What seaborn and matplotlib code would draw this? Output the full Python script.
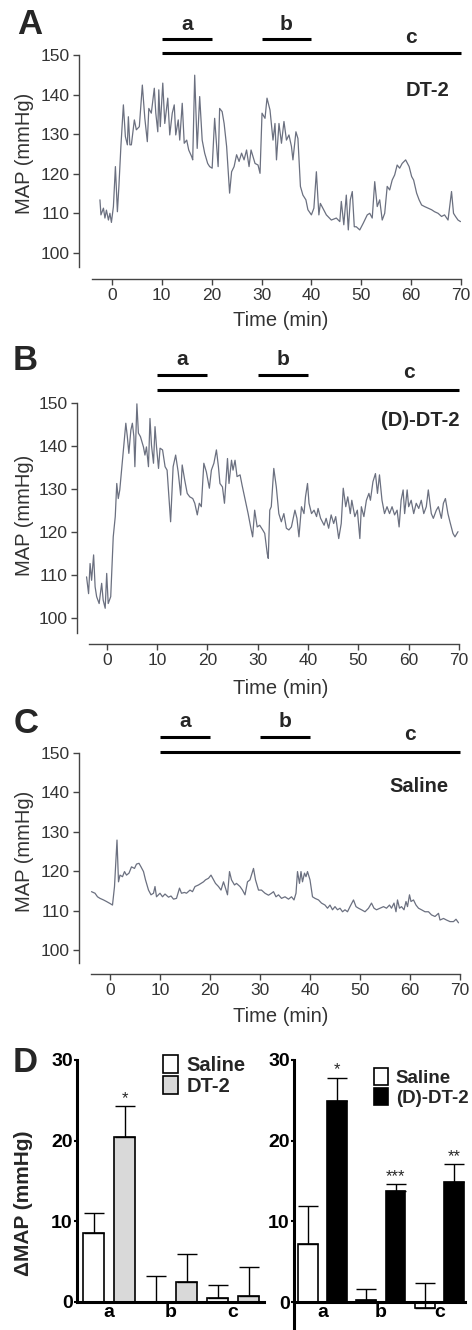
import pandas as pd
import seaborn as sns
import matplotlib.pyplot as plt
from matplotlib.patches import Patch

# MAP traces (time in min, MAP in mmHg)
dt2_time = [-2.4, -2.2, -1.7, -1.4, -1.1, -0.7, -0.4, -0.1, 0.3, 0.7, 1.1, 1.4, 1.8, 2.3, 2.7, 3.1, 3.3, 3.6, 3.9,
            4.5, 4.9, 5.5, 6.1, 6.6, 7.1, 7.4, 7.9, 8.5, 8.8, 9.2, 9.4, 9.7, 10.2, 10.6, 11.2, 11.6, 12.1, 12.5, 12.8,
            13.3, 13.6, 14.1, 14.5, 15.0, 15.4, 16.0, 16.2, 16.6, 17.1, 17.6, 18.1, 18.6, 19.2, 19.6, 20.1, 20.6, 21.3,
            21.6, 22.1, 22.5, 23.0, 23.6, 24.0, 24.5, 25.0, 25.5, 26.0, 26.5, 27.0, 27.5, 27.9, 28.7, 29.3, 29.7, 30.1,
            30.7, 31.1, 31.7, 32.3, 32.7, 33.0, 33.5, 34.0, 34.5, 35.0, 35.5, 36.0, 36.3, 36.9, 37.3, 37.8, 38.3, 38.9,
            39.3, 40.0, 40.5, 41.0, 41.5, 41.8, 42.3, 43.0, 44.0, 45.0, 45.7, 46.0, 46.5, 47.0, 47.4, 47.8, 48.2, 48.6,
            49.0, 49.7, 50.4, 51.2, 51.7, 52.2, 52.7, 53.2, 53.7, 54.2, 54.7, 55.2, 55.7, 56.2, 56.7, 57.2, 57.7, 58.2,
            58.9, 59.6, 60.1, 60.5, 61.1, 61.6, 62.1, 62.7, 63.4, 64.1, 64.7, 65.4, 66.1, 66.7, 67.4, 68.1, 68.5, 68.9,
            69.4, 69.9]
dt2_map = [113.4, 109.6, 111.3, 108.8, 110.8, 108.3, 110.0, 107.7, 111.7, 121.8, 110.4, 116.8, 126.9, 137.4, 129.4,
           127.3, 134.4, 127.3, 127.3, 133.6, 131.1, 131.9, 142.4, 134.0, 128.1, 136.5, 135.3, 141.6, 135.3, 130.6,
           141.2, 131.9, 142.9, 132.7, 139.1, 129.8, 135.3, 137.4, 129.8, 133.6, 128.5, 137.8, 127.7, 128.5, 126.0,
           124.3, 123.5, 144.9, 126.4, 139.5, 128.5, 125.2, 122.6, 121.8, 121.4, 134.0, 121.8, 136.5, 135.7, 132.7,
           126.9, 115.1, 120.5, 121.8, 124.8, 123.1, 125.2, 123.5, 126.0, 121.8, 126.0, 122.6, 122.2, 120.1, 135.3,
           134.0, 139.1, 136.1, 128.5, 132.7, 123.5, 132.7, 127.7, 133.2, 128.5, 129.8, 126.9, 123.5, 130.6, 128.9,
           116.8, 114.6, 113.4, 110.9, 109.6, 111.3, 120.5, 109.6, 112.5, 111.3, 109.6, 108.3, 108.8, 107.9, 113.0,
           107.1, 114.6, 105.8, 113.4, 115.5, 106.6, 106.6, 105.8, 107.5, 109.6, 110.0, 108.8, 118.0, 111.7, 113.4,
           108.3, 110.0, 116.8, 115.9, 118.4, 119.7, 122.2, 121.4, 122.6, 123.5, 121.8, 119.3, 118.4, 115.1, 113.4,
           112.1, 111.7, 111.3, 110.9, 110.4, 110.0, 109.2, 109.6, 108.3, 115.5, 110.0, 109.2, 108.3, 107.9]

ddt2_time = [-4.0, -3.6, -3.3, -3.0, -2.6, -2.3, -2.0, -1.5, -1.0, -0.7, -0.3, 0.0, 0.3, 0.8, 1.3, 1.7, 2.0, 2.3, 2.6,
             3.2, 3.8, 4.1, 4.4, 4.8, 5.1, 5.4, 5.6, 6.0, 6.3, 6.7, 7.3, 7.6, 7.9, 8.3, 8.6, 8.9, 9.3, 9.6, 9.9, 10.3,
             10.6, 11.1, 11.6, 12.0, 12.7, 13.2, 13.7, 14.2, 14.7, 15.0, 15.5, 16.0, 16.5, 17.1, 17.5, 18.0, 18.4,
             18.8, 19.3, 19.8, 20.4, 20.8, 21.3, 21.8, 22.2, 22.5, 23.0, 23.4, 24.0, 24.3, 24.8, 25.1, 25.5, 25.9,
             26.5, 26.9, 27.4, 28.1, 28.6, 29.0, 29.4, 29.9, 30.4, 31.0, 31.4, 31.9, 32.1, 32.4, 32.7, 33.2, 33.7,
             34.2, 34.7, 35.2, 35.7, 36.2, 36.7, 37.4, 37.8, 38.2, 38.7, 39.2, 39.5, 39.9, 40.2, 40.7, 41.2, 41.7,
             42.0, 42.5, 43.2, 43.6, 44.1, 44.6, 45.1, 45.5, 46.1, 46.6, 47.0, 47.5, 47.9, 48.4, 48.7, 49.3, 49.8,
             50.3, 50.6, 51.1, 51.6, 52.1, 52.4, 52.9, 53.4, 53.8, 54.2, 54.7, 55.2, 55.7, 56.2, 56.7, 57.2, 57.7,
             58.1, 58.5, 58.9, 59.2, 59.7, 60.0, 60.5, 61.0, 61.5, 62.0, 62.5, 63.0, 63.5, 63.9, 64.5, 64.9, 65.5,
             65.9, 66.5, 66.9, 67.3, 67.8, 68.2, 68.8, 69.2, 69.8]
ddt2_map = [109.6, 105.7, 112.7, 108.8, 114.7, 107.3, 105.0, 103.4, 108.1, 104.2, 102.3, 110.4, 103.4, 105.0, 118.9,
            123.6, 131.3, 127.8, 129.8, 137.5, 145.3, 142.2, 138.3, 143.7, 145.3, 142.2, 135.2, 149.8, 143.0, 142.2,
            139.8, 137.9, 139.8, 135.2, 146.4, 140.2, 136.0, 144.5, 139.8, 134.8, 139.5, 139.1, 135.2, 134.4, 122.4,
            135.2, 137.9, 134.0, 128.6, 135.6, 132.1, 129.0, 128.2, 127.8, 126.7, 124.0, 126.7, 125.9, 136.0, 134.0,
            130.2, 134.4, 136.0, 139.1, 135.2, 131.3, 130.5, 126.7, 137.1, 131.3, 136.7, 134.4, 136.7, 132.9, 133.3,
            130.9, 128.2, 124.3, 121.2, 118.9, 125.1, 121.2, 121.6, 120.5, 119.7, 115.0, 113.9, 125.1, 125.9, 134.8,
            130.5, 124.3, 122.4, 124.3, 120.9, 120.5, 121.2, 125.1, 123.2, 118.9, 125.9, 124.3, 128.2, 131.3, 126.7,
            124.3, 125.1, 123.6, 125.5, 123.2, 121.6, 123.2, 120.9, 124.0, 122.0, 123.6, 118.5, 122.0, 130.2, 125.9,
            128.2, 124.3, 127.4, 123.6, 125.1, 118.5, 125.9, 123.6, 127.4, 129.0, 127.4, 131.7, 133.6, 129.0, 133.3,
            127.4, 124.3, 125.9, 124.3, 125.9, 124.0, 125.1, 121.2, 127.4, 129.8, 124.3, 129.8, 125.9, 127.4, 124.3,
            126.7, 125.5, 127.4, 124.3, 125.9, 129.8, 124.3, 123.2, 125.1, 125.9, 123.2, 126.7, 127.8, 124.3, 122.4,
            119.7, 118.9, 120.1]

saline_time = [-3.7, -3.0, -2.5, -2.0, -1.3, -0.7, 0.0, 0.5, 0.9, 1.4, 1.7, 2.0, 2.5, 2.9, 3.3, 3.8, 4.3, 4.9, 5.3,
               5.8, 6.2, 6.7, 7.1, 7.7, 8.2, 8.7, 9.0, 9.3, 10.0, 10.5, 11.0, 11.7, 12.2, 12.7, 13.3, 13.9, 14.3,
               14.9, 15.3, 16.0, 16.5, 17.0, 17.7, 18.2, 18.7, 19.1, 19.7, 20.2, 20.7, 21.1, 21.7, 22.2, 22.7, 23.1,
               23.5, 23.9, 24.3, 24.9, 25.3, 26.0, 26.5, 27.0, 27.5, 28.0, 28.7, 29.1, 29.7, 30.3, 31.0, 31.7, 32.3,
               32.7, 33.2, 33.7, 34.3, 35.0, 35.7, 36.3, 36.8, 37.2, 37.5, 37.9, 38.2, 38.5, 38.9, 39.2, 39.5, 40.0,
               40.5, 41.0, 41.7, 42.3, 43.0, 43.5, 44.0, 44.5, 45.0, 45.5, 46.0, 46.5, 47.0, 47.5, 48.0, 48.7, 49.2,
               49.7, 50.3, 51.0, 51.7, 52.3, 52.8, 53.3, 54.0, 54.7, 55.3, 55.9, 56.3, 56.8, 57.2, 57.5, 57.9, 58.3,
               58.8, 59.2, 59.5, 59.9, 60.2, 60.7, 61.2, 61.7, 62.3, 63.0, 63.7, 64.3, 65.0, 65.7, 66.0, 66.7, 67.3,
               68.0, 68.7, 69.2, 69.7]
saline_map = [114.8, 114.4, 113.5, 113.1, 112.7, 112.3, 111.8, 111.4, 116.1, 127.9, 117.3, 119.0, 118.6, 119.9, 119.0,
              119.5, 121.1, 120.7, 121.8, 122.0, 121.1, 119.9, 117.8, 115.2, 114.0, 114.4, 116.1, 113.5, 114.4, 113.5,
              114.2, 113.4, 113.7, 112.9, 113.1, 115.7, 114.4, 114.6, 114.4, 115.2, 114.8, 116.1, 116.5, 116.9, 117.3,
              117.8, 118.2, 119.0, 117.8, 116.9, 116.1, 115.2, 117.3, 115.7, 114.0, 119.9, 117.8, 116.5, 116.9, 116.1,
              115.2, 114.0, 117.3, 117.8, 120.7, 117.8, 115.2, 115.2, 114.4, 113.9, 114.4, 114.8, 113.5, 114.0, 113.1,
              113.5, 112.9, 113.5, 112.7, 114.4, 119.9, 116.9, 119.9, 117.3, 119.5, 118.6, 119.9, 117.8, 113.5, 113.1,
              112.7, 111.9, 111.4, 110.6, 111.4, 110.2, 111.0, 110.2, 110.6, 109.7, 110.2, 109.7, 111.0, 112.7, 111.0,
              110.6, 110.2, 109.7, 110.6, 111.9, 110.6, 110.2, 110.6, 111.0, 110.6, 111.4, 110.6, 111.9, 109.7, 112.7,
              110.6, 111.0, 110.2, 112.3, 111.0, 114.0, 112.3, 112.7, 111.4, 110.6, 110.2, 109.7, 109.7, 108.9, 108.5,
              109.3, 107.6, 108.0, 107.6, 107.2, 107.2, 107.8, 106.9]

# infusion periods (min)
period_a = [10, 20]
period_b = [30, 40]
period_c = [10, 70]

# panel D: mean change in MAP and SEM
periods = ['a', 'b', 'c']
saline_left = [8.5, 0.0, 0.5]
saline_left_err = [2.5, 3.2, 1.6]
dt2_bar = [20.5, 2.5, 0.8]
dt2_bar_err = [3.8, 3.5, 3.6]
saline_right = [7.2, 0.3, -0.7]
saline_right_err = [4.7, 1.35, 3.1]
ddt2_bar = [24.9, 13.8, 14.9]
ddt2_bar_err = [2.9, 0.8, 2.2]
stars_left = ['*', '', '']
stars_right = ['*', '***', '**']

W, H = 472, 1330
TRACE = '#6b7080'
GREY = '#444444'


def fx(x):
    return x / W


def fy(y):
    return 1 - y / H


def box(left, right, top, bottom):
    return [fx(left), fy(bottom), (right - left) / W, (bottom - top) / H]


sns.set_theme(style="white")
plt.rcParams['font.family'] = ['Liberation Sans', 'DejaVu Sans']

fig = plt.figure(figsize=(W / 100, H / 100), dpi=100)

trace_panels = [
    dict(t=dt2_time, v=dt2_map, px=(79, 461, 55, 279), ylim=(93.4, 150), xlim=(-6.6, 70), xstart=-4.0,
         ybot=96.5, bars=(154.0, 150.5, 157.8, 154.5), letter='A', lpos=(30, 25), name='DT-2',
         npos=(449, 90), ylab=153, tlab=321),
    dict(t=ddt2_time, v=ddt2_map, px=(77, 459, 403, 644), ylim=(94.0, 150), xlim=(-5.9, 70), xstart=-3.5,
         ybot=96.5, bars=(156.5, 153.0, 160.2, 157.0), letter='B', lpos=(25, 361), name='(D)-DT-2',
         npos=(460, 420), ylab=515, tlab=688),
    dict(t=saline_time, v=saline_map, px=(79, 460, 753, 974), ylim=(93.9, 150), xlim=(-6.2, 70), xstart=-3.8,
         ybot=96.7, bars=(154.1, 150.25, 157.9, 154.6), letter='C', lpos=(26, 724), name='Saline',
         npos=(449, 786), ylab=851, tlab=1017),
]

for p in trace_panels:
    ax = fig.add_axes(box(*p['px']))
    sns.lineplot(x=p['t'], y=p['v'], ax=ax, color=TRACE, linewidth=0.9, sort=False, estimator=None)
    ax.set_xlim(*p['xlim'])
    ax.set_ylim(*p['ylim'])
    ax.set_xticks(range(0, 71, 10))
    ax.set_yticks(range(100, 151, 10))
    for s in ['top', 'right']:
        ax.spines[s].set_visible(False)
    for s in ['left', 'bottom']:
        ax.spines[s].set_color(GREY)
        ax.spines[s].set_linewidth(1.0)
    ax.spines['left'].set_bounds(p['ybot'], 150)
    ax.spines['bottom'].set_bounds(p['xstart'], 70)
    ax.tick_params(axis='both', direction='out', length=4, width=1.0, color=GREY,
                   labelsize=12.5, labelcolor='#333333', pad=2.5)
    ax.tick_params(axis='both', which='both', left=True, bottom=True)
    ax.set_xlabel('')
    ax.set_ylabel('')

    ya, yc, yl_ab, yl_c = p['bars']
    for per, y in [(period_a, ya), (period_b, ya), (period_c, yc)]:
        ax.plot(per, [y, y], color='black', lw=2.2, clip_on=False, solid_capstyle='butt')
    ax.text(sum(period_a) / 2, yl_ab, 'a', ha='center', va='center', fontsize=15, fontweight='bold')
    ax.text(sum(period_b) / 2, yl_ab, 'b', ha='center', va='center', fontsize=15, fontweight='bold')
    ax.text(60, yl_c, 'c', ha='center', va='center', fontsize=15, fontweight='bold')

    fig.text(fx(p['lpos'][0]), fy(p['lpos'][1]), p['letter'], ha='center', va='center',
             fontsize=25, fontweight='bold')
    fig.text(fx(p['npos'][0]), fy(p['npos'][1]), p['name'], ha='right', va='center',
             fontsize=14.5, fontweight='bold')
    fig.text(fx(25), fy(p['ylab']), 'MAP (mmHg)', rotation=90, ha='center', va='center',
             fontsize=14.5, color='#333333')
    fig.text(fx(281), fy(p['tlab']), 'Time (min)', ha='center', va='center',
             fontsize=14.5, color='#333333')

bar_panels = [
    dict(px=(77, 264, 1060, 1302), ylim=(0, 30), xlim=(-0.52, 2.5), sal=saline_left, sal_err=saline_left_err,
         drug=dt2_bar, drug_err=dt2_bar_err, name='DT-2', color='#d9d9d9', stars=stars_left,
         leg=(0.46, 1.02), legsize=14.5),
    dict(px=(294, 465, 1060, 1330), ylim=(-3.47, 30), xlim=(-0.49, 2.44), sal=saline_right,
         sal_err=saline_right_err, drug=ddt2_bar, drug_err=ddt2_bar_err, name='(D)-DT-2', color='black',
         stars=stars_right, leg=(0.47, 0.97), legsize=13.5),
]

for p in bar_panels:
    ax = fig.add_axes(box(*p['px']))
    rows = []
    for i, per in enumerate(periods):
        rows.append(dict(period=per, group='Saline', value=p['sal'][i], err=p['sal_err'][i], star=''))
        rows.append(dict(period=per, group=p['name'], value=p['drug'][i], err=p['drug_err'][i],
                         star=p['stars'][i]))
    df = pd.DataFrame(rows)
    sns.barplot(data=df, x='period', y='value', hue='group', order=periods,
                hue_order=['Saline', p['name']], palette={'Saline': 'white', p['name']: p['color']},
                edgecolor='black', linewidth=1.2, width=1.0, gap=0.32, errorbar=None, legend=False, ax=ax)

    bars = sorted(ax.patches, key=lambda b: b.get_x())
    for b, (_, r) in zip(bars, df.iterrows()):
        xc = b.get_x() + b.get_width() / 2
        ax.errorbar([xc], [r['value']], yerr=[[0], [r['err']]], fmt='none', ecolor='black',
                    elinewidth=1.0, capsize=7.5, capthick=1.0, zorder=1)
        if r['star']:
            ax.annotate(r['star'], (xc, r['value'] + r['err']), xytext=(0, 5.5), textcoords='offset points',
                        ha='center', va='center', fontsize=12)

    ax.set_xlim(*p['xlim'])
    ax.set_ylim(*p['ylim'])
    ax.set_yticks([0, 10, 20, 30])
    for s in ['top', 'right']:
        ax.spines[s].set_visible(False)
    for s in ['left', 'bottom']:
        ax.spines[s].set_color('black')
        ax.spines[s].set_linewidth(2.2)
    ax.spines['bottom'].set_position(('data', 0))
    ax.tick_params(axis='y', left=True, length=2.5, width=1.5, pad=0.5, labelsize=14, colors='black')
    ax.tick_params(axis='x', bottom=False, length=0, pad=1.5, labelsize=14, colors='black')
    plt.setp(ax.get_yticklabels(), fontweight='bold')
    plt.setp(ax.get_xticklabels(), fontweight='bold')
    ax.set_xlabel('')
    ax.set_ylabel('')

    handles = [Patch(facecolor='white', edgecolor='black', linewidth=1.2),
               Patch(facecolor=p['color'], edgecolor='black', linewidth=1.2)]
    ax.legend(handles, ['Saline', p['name']], loc='upper left', bbox_to_anchor=p['leg'], frameon=False,
              borderaxespad=0, borderpad=0, handlelength=0.75, handleheight=1.0, handletextpad=0.4,
              labelspacing=0.05, prop=dict(size=p['legsize'], weight='bold'))

fig.text(fx(25), fy(1062), 'D', ha='center', va='center', fontsize=25, fontweight='bold')
fig.text(fx(24), fy(1203), 'ΔMAP (mmHg)', rotation=90, ha='center', va='center', fontsize=15,
         fontweight='bold')

fig.savefig('out.png', dpi=100)
